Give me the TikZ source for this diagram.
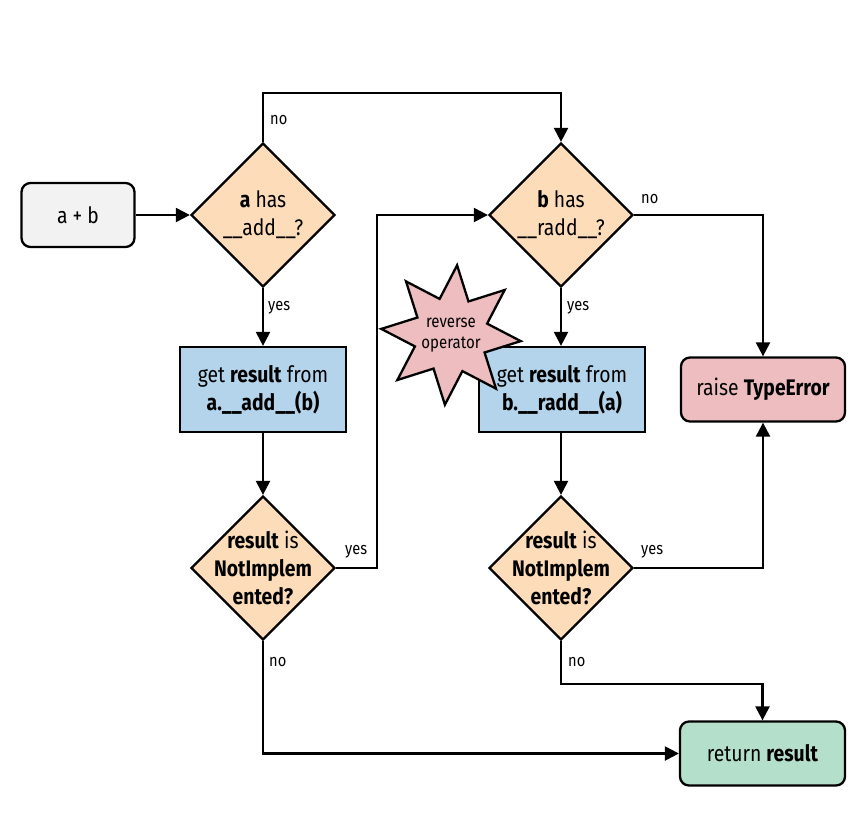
\documentclass[tikz,border=0pt]{standalone}
\usepackage{fontspec}
\setmainfont{Fira Sans}[FakeStretch=0.86]
\usetikzlibrary{shapes.geometric,shapes.symbols,arrows.meta}
\definecolor{startgray}{HTML}{F2F2F2}
\definecolor{decide}{HTML}{FDDDB9}
\definecolor{action}{HTML}{B3D4EA}
\definecolor{errorpink}{HTML}{EDBDC0}
\definecolor{donegreen}{HTML}{B4DFCA}
\begin{document}
\begin{tikzpicture}[x=1pt,y=-1pt,
  every node/.style={font=\fontsize{22.5}{28}\selectfont, align=center, inner sep=0pt},
  base/.style={draw=black, line width=2.3pt},
  rbox/.style={base, rounded corners=9pt, minimum height=64pt},
  sbox/.style={base, fill=action, minimum width=166pt, minimum height=85pt},
  choice/.style={base, diamond, fill=decide, minimum width=144pt, minimum height=144pt, aspect=1},
  flow/.style={line width=2.3pt, -{Triangle[length=14pt,width=14pt]}},
  tag/.style={font=\fontsize{17}{20}\selectfont}]
\useasboundingbox (0,0) rectangle (864,815);

% nodes
\node[rbox, fill=startgray, minimum width=113pt] (start) at (78,215) {a + b};
\node[choice] (hasadd) at (263,215) {};
\node[choice] (hasradd) at (561,215) {};
\node[sbox] (calladd) at (263,389.5) {get \textbf{result} from\\\textbf{a.\_\_add\_\_(b)}};
\node[sbox] (callradd) at (562,389.5) {get \textbf{result} from\\\textbf{b.\_\_radd\_\_(a)}};
\node[rbox, fill=errorpink, minimum width=164pt] (raise) at (763,389.5) {raise \textbf{TypeError}};
\node[choice] (notimplA) at (263,568) {};
\node[choice] (notimplB) at (561,568) {};
\node[rbox, fill=donegreen, minimum width=165pt] (ret) at (762.5,753.5) {return \textbf{result}};

% decision texts
\node (hasaddtext) at (hasadd.center) {\textbf{a} has\\\_\_add\_\_?};
\node (hasraddtext) at (hasradd.center) {\textbf{b} has\\\_\_radd\_\_?};
\node (notimplAtext) at (notimplA.center) {\textbf{result} is\\\textbf{NotImplem}\\\textbf{ented?}};
\node (notimplBtext) at (notimplB.center) {\textbf{result} is\\\textbf{NotImplem}\\\textbf{ented?}};

% bend points
\coordinate (topturn) at (263,93);
\coordinate (yesturn) at (377,568);
\coordinate (noturn) at (762.5,684);

% connectors
\draw[flow] (start) -- (hasadd);
\draw[flow] (hasadd.north) -- (topturn) -| (hasradd.north);
\draw[flow] (hasadd.south) -- (calladd.north);
\draw[flow] (calladd.south) -- (notimplA.north);
\draw[flow] (notimplA.east) -- (yesturn) |- (hasradd.west);
\draw[flow] (hasradd.east) -| (raise.north);
\draw[flow] (hasradd.south) -- (callradd.north -| hasradd.south);
\draw[flow] (callradd.south -| notimplB.north) -- (notimplB.north);
\draw[flow] (notimplB.east) -| (raise.south);
\draw[flow] (notimplB.south) |- (noturn) -- (ret.north);
\draw[flow] (notimplA.south) |- (ret.west);

% burst lying over the reflected-call box
\node[base, star, star points=8, star point ratio=1.85, shape border rotate=-5,
      fill=errorpink, minimum size=140pt] (rev) at (451,335) {};
\node[font=\fontsize{17.5}{20.5}\selectfont] (revtext) at (rev.center) {reverse\\operator};

% branch labels
\node[tag, anchor=west] at (270,120) {no};
\node[tag, anchor=west] at (268,308) {yes};
\node[tag, anchor=west] at (641,199) {no};
\node[tag, anchor=west] at (567,308) {yes};
\node[tag, anchor=west] at (345,552) {yes};
\node[tag, anchor=west] at (641,552) {yes};
\node[tag, anchor=west] at (269,662) {no};
\node[tag, anchor=west] at (568,662) {no};
\end{tikzpicture}
\end{document}
